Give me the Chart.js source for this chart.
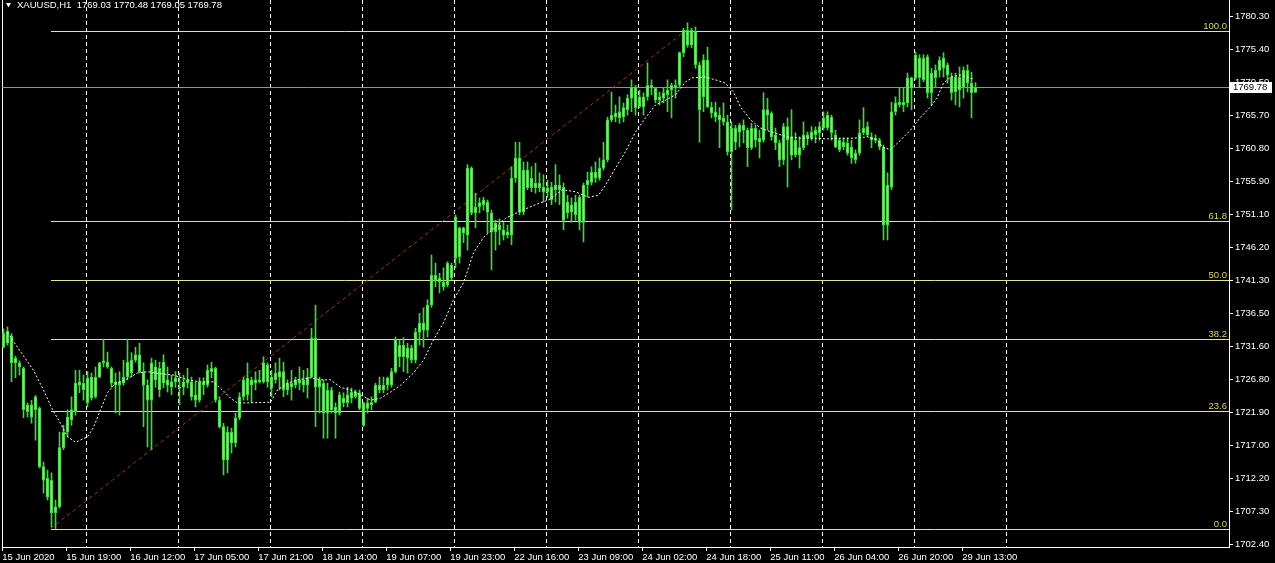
<!DOCTYPE html>
<html>
<head>
<meta charset="utf-8">
<script src="https://cdn.jsdelivr.net/npm/chart.js@4.4.1/dist/chart.umd.min.js"></script>
<style>
  html, body { margin: 0; padding: 0; background: #000; }
  #wrap { position: relative; width: 1275px; height: 563px; }
</style>
</head>
<body>
<div id="wrap"><canvas id="myChart"></canvas></div>
<script>
// XAUUSD H1, one candle per hour from 15 Jun 2020
var openPrices = [
    1731.5,1733.9,1733.2,1729.9,1729.2,1728.4,1722.0,1723.0,1722.3,1722.5,
    1713.9,1712.2,1711.9,1707.1,1708.0,1716.7,1719.0,1720.8,1722.0,1726.4,
    1725.2,1727.0,1724.0,1724.2,1727.1,1729.2,1729.3,1728.4,1726.4,1725.9,
    1726.2,1727.1,1727.7,1729.6,1730.4,1727.9,1725.9,1723.7,1728.6,1725.2,
    1729.3,1725.9,1726.4,1726.4,1725.6,1725.6,1726.2,1726.4,1724.5,1723.7,
    1726.4,1725.9,1727.9,1728.4,1723.7,1719.8,1714.9,1719.0,1717.4,1721.1,
    1724.2,1724.5,1726.7,1726.2,1726.7,1726.4,1728.9,1727.1,1726.7,1727.1,
    1727.9,1725.2,1726.2,1725.9,1726.7,1725.9,1725.9,1727.1,1732.9,1725.6,
    1726.2,1721.8,1725.2,1722.7,1721.8,1724.0,1723.3,1724.0,1724.9,1724.8,
    1723.3,1722.5,1723.4,1723.4,1725.9,1725.2,1725.9,1725.9,1727.9,1731.8,
    1730.1,1731.4,1729.6,1729.6,1733.7,1735.1,1734.0,1737.7,1742.1,1741.7,
    1741.1,1740.7,1743.6,1744.6,1749.1,1748.3,1748.0,1757.9,1751.3,1752.2,
    1752.5,1752.9,1751.3,1748.5,1749.5,1748.8,1748.0,1748.0,1756.4,1759.4,
    1751.4,1757.6,1755.0,1755.7,1755.0,1755.1,1754.4,1755.1,1754.7,1755.4,
    1755.1,1751.3,1752.5,1751.0,1753.6,1749.9,1755.4,1755.8,1756.4,1756.4,
    1757.9,1759.1,1765.0,1765.4,1766.2,1765.4,1766.5,1768.2,1769.8,1766.9,
    1768.4,1768.4,1770.1,1769.7,1767.9,1768.2,1768.7,1769.4,1769.7,1770.1,
    1774.9,1778.2,1776.0,1778.0,1773.1,1768.4,1773.8,1766.9,1766.2,1765.7,
    1765.3,1764.7,1760.3,1763.8,1763.2,1764.2,1763.5,1760.9,1763.8,1762.3,
    1762.0,1766.5,1766.0,1762.8,1761.6,1759.1,1764.0,1762.5,1759.8,1760.9,
    1760.9,1762.8,1762.3,1763.5,1763.1,1763.8,1765.7,1763.1,1762.8,1760.6,
    1761.7,1761.6,1761.0,1759.1,1760.1,1763.1,1764.0,1762.5,1762.3,1762.0,
    1761.0,1749.5,1755.1,1766.2,1767.6,1767.2,1767.5,1771.2,1771.2,1774.1,
    1770.9,1774.3,1769.0,1771.2,1772.3,1774.1,1773.1,1771.3,1769.1,1771.3,
    1769.8,1772.3,1770.4,1769.03
];
var highPrices = [
    1734.2,1734.5,1733.5,1730.2,1729.5,1728.6,1723.3,1723.7,1724.4,1722.7,
    1714.6,1713.4,1713.0,1709.0,1719.0,1720.0,1722.3,1724.2,1728.1,1728.1,
    1727.4,1727.9,1727.7,1728.6,1729.3,1732.7,1730.8,1728.6,1727.7,1727.9,
    1729.6,1732.7,1730.7,1731.5,1732.1,1729.2,1726.7,1729.9,1729.6,1729.3,
    1730.4,1728.6,1727.4,1727.9,1727.7,1727.4,1728.4,1727.1,1726.4,1727.0,
    1727.0,1728.9,1729.3,1728.6,1724.2,1720.3,1719.8,1719.6,1721.8,1724.8,
    1727.1,1729.2,1727.1,1727.9,1728.1,1730.1,1729.2,1728.1,1729.2,1729.9,
    1729.3,1726.7,1728.1,1727.1,1728.6,1728.1,1728.4,1734.3,1737.7,1727.1,
    1726.7,1726.2,1725.6,1723.3,1724.9,1724.8,1725.6,1725.5,1725.2,1725.2,
    1723.4,1724.0,1724.2,1726.2,1727.1,1727.1,1727.1,1728.4,1733.0,1732.6,
    1732.9,1732.1,1731.8,1734.3,1736.5,1737.3,1738.5,1745.1,1743.9,1742.4,
    1743.2,1744.1,1743.9,1751.0,1749.2,1749.2,1758.4,1758.1,1754.2,1753.5,
    1753.6,1753.2,1751.7,1750.2,1750.4,1749.9,1749.5,1758.1,1761.7,1761.7,
    1758.8,1758.8,1758.1,1758.6,1757.2,1756.9,1756.1,1755.8,1758.4,1756.9,
    1755.7,1753.9,1753.5,1753.9,1753.9,1755.7,1757.3,1758.1,1758.8,1759.4,
    1761.7,1765.4,1769.1,1767.2,1768.4,1767.5,1768.7,1770.9,1770.1,1769.4,
    1769.0,1773.4,1770.9,1769.8,1769.1,1769.7,1770.9,1770.4,1770.9,1775.0,
    1778.5,1779.3,1778.5,1778.7,1773.5,1774.6,1775.7,1767.6,1767.6,1766.8,
    1767.5,1765.7,1764.7,1764.2,1764.5,1765.0,1763.8,1764.5,1764.2,1763.5,
    1769.0,1768.2,1766.2,1763.8,1762.0,1764.5,1765.3,1766.5,1763.1,1762.5,
    1764.7,1763.2,1764.0,1764.0,1764.7,1766.2,1766.2,1765.7,1763.5,1762.3,
    1762.3,1762.3,1762.0,1760.6,1765.0,1766.8,1764.7,1763.1,1762.8,1762.3,
    1761.3,1757.2,1767.6,1768.4,1769.7,1769.8,1771.9,1771.3,1775.0,1774.6,
    1774.6,1774.6,1772.6,1773.1,1774.3,1774.9,1773.4,1771.9,1771.9,1772.8,
    1772.8,1773.1,1772.0,1770.48
];
var lowPrices = [
    1731.4,1731.8,1726.4,1727.0,1727.4,1721.1,1721.2,1720.3,1717.8,1713.7,
    1710.0,1709.0,1705.0,1704.8,1707.8,1716.4,1718.3,1720.0,1721.5,1724.8,
    1723.7,1722.7,1723.7,1724.0,1727.0,1728.6,1728.4,1725.6,1721.8,1721.5,
    1725.9,1726.7,1727.1,1729.3,1727.7,1719.8,1716.8,1716.4,1725.6,1724.2,
    1725.5,1724.9,1724.5,1725.6,1723.0,1724.5,1725.5,1723.7,1722.7,1723.4,
    1724.5,1725.6,1727.0,1723.4,1719.6,1712.7,1713.0,1715.9,1716.8,1720.8,
    1723.7,1723.7,1723.4,1725.2,1726.2,1726.2,1725.6,1724.2,1726.2,1725.2,
    1724.2,1724.5,1723.7,1725.5,1725.2,1724.9,1724.0,1727.0,1719.8,1721.8,
    1718.1,1718.1,1721.8,1718.1,1721.5,1722.7,1722.7,1723.3,1724.0,1722.3,
    1719.8,1721.8,1722.3,1723.3,1724.8,1724.8,1725.2,1725.6,1727.7,1728.6,
    1727.9,1727.7,1729.2,1729.2,1731.8,1731.5,1733.0,1737.4,1740.4,1739.5,
    1739.9,1740.4,1741.4,1743.2,1743.9,1746.9,1745.8,1751.0,1749.1,1751.3,
    1751.7,1748.3,1742.9,1745.8,1746.6,1747.3,1747.6,1746.6,1755.8,1751.0,
    1751.0,1754.7,1754.4,1754.2,1754.4,1752.9,1753.6,1752.5,1752.9,1752.5,
    1748.8,1750.5,1749.9,1750.2,1748.8,1747.0,1753.6,1755.4,1755.8,1756.1,
    1757.6,1758.8,1764.7,1764.7,1764.5,1764.7,1765.7,1766.2,1765.7,1766.8,
    1765.7,1767.9,1768.7,1767.5,1767.2,1767.5,1766.2,1765.3,1768.2,1769.7,
    1774.3,1775.7,1775.6,1772.6,1761.7,1766.2,1766.8,1765.3,1764.7,1760.9,
    1764.2,1759.8,1751.7,1760.6,1761.0,1761.6,1758.1,1760.6,1761.0,1759.4,
    1761.7,1763.5,1762.0,1760.6,1758.1,1758.4,1755.1,1759.1,1759.5,1757.9,
    1760.6,1761.3,1762.0,1761.6,1762.0,1763.5,1763.5,1762.0,1760.9,1760.3,
    1760.6,1759.8,1758.6,1758.6,1759.8,1762.8,1762.5,1760.9,1761.6,1760.6,
    1747.3,1747.3,1754.7,1765.7,1766.9,1766.2,1766.9,1766.5,1770.9,1769.8,
    1770.6,1768.2,1767.2,1769.8,1771.3,1771.3,1770.4,1767.9,1767.2,1766.9,
    1768.2,1769.1,1765.3,1769.03
];
var closePrices = [
    1733.6,1732.1,1729.2,1729.2,1728.6,1722.3,1723.0,1721.2,1724.2,1713.9,
    1711.9,1709.4,1707.1,1708.0,1716.7,1719.0,1721.2,1722.3,1726.2,1725.9,
    1726.2,1723.3,1727.1,1727.1,1729.2,1729.5,1728.6,1726.2,1725.9,1726.4,
    1727.1,1729.3,1729.6,1730.4,1727.9,1725.9,1723.7,1729.2,1726.7,1728.4,
    1726.2,1726.7,1725.6,1727.0,1725.5,1726.4,1726.7,1724.2,1723.7,1726.4,
    1725.9,1728.1,1728.4,1723.7,1719.8,1714.9,1719.0,1717.4,1721.1,1724.2,
    1726.7,1727.0,1725.9,1726.7,1726.4,1729.2,1726.4,1725.5,1727.7,1727.9,
    1725.2,1726.2,1725.6,1726.7,1726.2,1726.7,1727.1,1732.9,1725.6,1726.7,
    1721.8,1725.2,1722.3,1721.8,1724.5,1723.3,1724.5,1724.9,1724.2,1722.5,
    1720.0,1723.3,1723.0,1725.9,1725.2,1725.9,1727.0,1727.9,1732.6,1730.1,
    1731.8,1729.9,1731.4,1733.7,1735.1,1734.0,1737.7,1742.1,1741.4,1741.1,
    1740.4,1743.9,1741.7,1750.7,1744.8,1749.1,1757.9,1751.3,1752.2,1752.8,
    1753.2,1751.4,1748.5,1749.8,1748.8,1748.0,1748.5,1756.4,1759.4,1751.4,
    1757.6,1755.0,1756.4,1755.0,1755.7,1754.4,1755.0,1753.2,1755.4,1754.7,
    1750.2,1752.9,1751.4,1752.9,1749.9,1755.4,1756.1,1757.3,1757.3,1757.9,
    1759.1,1765.0,1765.7,1766.0,1765.3,1766.8,1768.2,1769.8,1766.8,1768.4,
    1766.9,1770.1,1769.7,1767.9,1768.4,1769.0,1769.4,1770.1,1770.1,1774.9,
    1778.2,1776.0,1778.2,1773.1,1766.5,1773.8,1766.9,1766.0,1765.4,1765.0,
    1764.7,1760.3,1763.8,1761.7,1764.2,1763.5,1760.9,1763.8,1762.0,1761.7,
    1766.5,1765.7,1762.5,1761.6,1759.1,1764.0,1762.0,1759.8,1762.0,1759.8,
    1762.8,1762.3,1763.2,1762.8,1764.0,1765.3,1763.8,1765.4,1761.0,1762.0,
    1761.0,1760.1,1759.4,1760.1,1763.1,1763.8,1762.8,1762.0,1762.0,1761.0,
    1749.5,1755.4,1766.2,1767.5,1767.2,1767.6,1771.2,1769.7,1774.6,1771.2,
    1774.1,1769.0,1771.9,1772.3,1773.8,1772.6,1771.6,1769.0,1771.3,1769.4,
    1772.3,1770.4,1769.0,1769.78
];

// moving average (white dotted), read at a number of bars
var maBars = [1,3.5,7.5,10,12.25,14.25,16,18,21,22.5,24.25,26,28,30.5,33.5,36,39.25,42.5,46,49.25,
    52.5,54.75,56.75,58.5,60.5,66.75,68.5,71,73.5,76.75,79.25,81.75,84.25,86.75,89.25,91.75,94.25,96.75,99.25,102.5,
    105,107.5,110,112.5,115,117.5,120,125.5,129.75,133,136.25,139.75,143,146.25,148.75,150.5,153,155.5,158,160.5,
    163,165.5,168,170.5,172.25,175.5,178,180.5,182.5,184.25,186.75,189.25,192.5,196,199.25,202.5,206,209.25,212.5,216,
    218.5,219.75,221.75,224.25,226.75,229.25,231.75,233.5,235,236.75,239.25,242.5];
var maValues = [1733.7,1731.5,1728.1,1725.2,1722.3,1720.3,1718.3,1717.5,1718.3,1719.7,1722.3,1724.8,1726.2,1726.7,1727.7,1727.9,1727.6,1727.4,1726.7,1726.4,
    1726.4,1725.2,1724.0,1723.3,1723.3,1723.4,1725.2,1726.2,1726.7,1727.0,1726.7,1726.7,1725.6,1725.2,1724.5,1723.7,1724.0,1724.9,1725.9,1727.7,
    1729.6,1732.6,1735.1,1738.5,1741.0,1745.4,1747.7,1750.5,1751.7,1752.5,1753.2,1754.7,1754.4,1753.6,1753.9,1755.4,1757.9,1760.3,1763.2,1765.3,
    1767.2,1767.9,1768.7,1770.6,1771.2,1771.3,1770.9,1770.4,1769.1,1766.9,1765.0,1763.8,1763.1,1762.5,1762.3,1762.3,1762.2,1762.3,1762.3,1762.5,
    1762.0,1761.0,1760.6,1762.0,1763.5,1765.4,1766.9,1768.4,1770.4,1771.3,1771.6,1771.0];

// time axis labels, one every 16 bars
var xTickBars = [0,16,32,48,64,80,96,112,128,144,160,176,192,208,224,240];
var xTickLabels = ["15 Jun 2020","15 Jun 19:00","16 Jun 12:00","17 Jun 05:00","17 Jun 21:00","18 Jun 14:00",
    "19 Jun 07:00","19 Jun 23:00","22 Jun 16:00","23 Jun 09:00","24 Jun 02:00","24 Jun 18:00",
    "25 Jun 11:00","26 Jun 04:00","26 Jun 20:00","29 Jun 13:00"];
// day separators (dashed grid)
var gridBars = [21,44,67,90,113,136,159,182,205,228,251];

var yTickValues = [1780.30,1775.40,1770.50,1765.70,1760.80,1755.90,1751.10,1746.20,1741.30,
    1736.50,1731.60,1726.80,1721.90,1717.00,1712.20,1707.30,1702.40];
var yTickLabels = ["1780.30","1775.40","1770.50","1765.70","1760.80","1755.90","1751.10","1746.20","1741.30",
    "1736.50","1731.60","1726.80","1721.90","1717.00","1712.20","1707.30","1702.40"];

// fibonacci retracement
var fibLow = 1704.76;
var fibHigh = 1778.13;
var fibStartBar = 11.75;
var fibEndBar = 170.5;
var fibLevels = [0, 23.6, 38.2, 50, 61.8, 100];
var fibLabels = ["0.0", "23.6", "38.2", "50.0", "61.8", "100.0"];

var lastPrice = 1769.78;
var headerText = "XAUUSD,H1  1769.03 1770.48 1769.05 1769.78";

var X_MIN = -0.375, X_MAX = 306.375;
var FONT = '9.5px "Liberation Sans", Arial, sans-serif';

function fib_price(level) {
    return fibLow + (fibHigh - fibLow) * level / 100;
}

function no_padding(scale) {
    scale.paddingLeft = 0;
    scale.paddingRight = 0;
    scale.paddingTop = 0;
    scale.paddingBottom = 0;
}

var wicks = [], bodies = [];
for(var i = 0; i < openPrices.length; i++) {
    wicks.push({x: i, y: [lowPrices[i], highPrices[i]]});
    bodies.push({x: i, y: [openPrices[i], closePrices[i]]});
}

var datasets = [];
// candle bodies on top
datasets.push({
    type: 'bar', data: bodies, order: 1, grouped: false,
    barThickness: 3, minBarLength: 1,
    backgroundColor: '#86e37c', borderColor: '#3fcc3f', borderWidth: 1, borderSkipped: false
});
datasets.push({
    type: 'bar', data: wicks, order: 2, grouped: false,
    barThickness: 1, backgroundColor: '#45d145', borderWidth: 0
});
datasets.push({
    type: 'line', order: 0,
    data: maBars.map(function(b, k) { return {x: b, y: maValues[k]}; }),
    borderColor: '#ffffff', borderWidth: 1, borderDash: [2, 2], pointRadius: 0, tension: 0
});
// fib trend line
datasets.push({
    type: 'line', order: 4,
    data: [{x: fibStartBar, y: fibLow}, {x: fibEndBar, y: fibHigh}],
    borderColor: '#a33030', borderWidth: 1, borderDash: [4, 3], pointRadius: 0
});

// crisp horizontal levels (fib + current price), placed with the y scale
var levels = {
    id: 'levels',
    beforeDatasetsDraw: function(chart) {
        var ctx = chart.ctx, xs = chart.scales.x, ys = chart.scales.y, area = chart.chartArea;
        ctx.save();
        ctx.lineWidth = 1;
        ctx.strokeStyle = '#8e92a6';
        var py = Math.round(ys.getPixelForValue(lastPrice)) + 0.5;
        ctx.beginPath(); ctx.moveTo(area.left, py); ctx.lineTo(area.right, py); ctx.stroke();
        ctx.strokeStyle = '#e8e48c';
        var x0 = Math.round(xs.getPixelForValue(fibStartBar));
        fibLevels.forEach(function(lv) {
            var fy = Math.round(ys.getPixelForValue(fib_price(lv))) + 0.5;
            ctx.beginPath(); ctx.moveTo(x0, fy); ctx.lineTo(area.right, fy); ctx.stroke();
        });
        ctx.restore();
    }
};

var overlay = {
    id: 'overlay',
    afterDraw: function(chart) {
        var ctx = chart.ctx, ys = chart.scales.y, area = chart.chartArea;
        ctx.save();
        ctx.font = FONT;
        // fib level captions
        ctx.fillStyle = '#ddd46a';
        ctx.textAlign = 'right';
        ctx.textBaseline = 'alphabetic';
        fibLevels.forEach(function(lv, k) {
            var py = Math.round(ys.getPixelForValue(fib_price(lv)));
            ctx.fillText(fibLabels[k], area.right - 2, py - 2);
        });
        // price tag on the axis
        var py = Math.round(ys.getPixelForValue(lastPrice));
        ctx.fillStyle = '#ffffff';
        ctx.fillRect(area.right + 1, py - 5, 42, 11);
        ctx.fillStyle = '#000000';
        ctx.textAlign = 'left';
        ctx.textBaseline = 'middle';
        ctx.fillText(lastPrice.toFixed(2), area.right + 4, py + 0.5);
        // symbol header
        ctx.fillStyle = '#ffffff';
        ctx.beginPath();
        ctx.moveTo(6, 3); ctx.lineTo(11, 3); ctx.lineTo(8.5, 7.5); ctx.closePath();
        ctx.fill();
        ctx.fillText(headerText, 17, 5.5);
        ctx.restore();
    }
};

var ctx = document.getElementById('myChart').getContext('2d');
globalThis.chart = new Chart(ctx, {
    type: 'bar',
    data: { datasets: datasets },
    plugins: [levels, overlay],
    options: {
        responsive: true,
        maintainAspectRatio: false,
        animation: false,
        layout: { padding: 0 },
        plugins: { legend: { display: false }, tooltip: { enabled: false } },
        scales: {
            x: {
                type: 'linear', position: 'bottom', min: X_MIN, max: X_MAX, offset: false,
                afterBuildTicks: function(scale) {
                    scale.ticks = xTickBars.map(function(b) { return {value: b - 0.3}; });
                },
                afterFit: function(scale) { scale.height = 16; no_padding(scale); },
                ticks: {
                    autoSkip: false, maxRotation: 0, align: 'start', padding: 1,
                    color: '#ffffff', font: { family: 'Liberation Sans', size: 9.5 },
                    callback: function(v, idx) { return xTickLabels[idx]; }
                },
                grid: { offset: false, drawOnChartArea: false, drawTicks: true, tickLength: 4, color: '#ffffff' },
                border: { display: true, color: '#ffffff' }
            },
            xg: {
                type: 'linear', axis: 'x', position: 'bottom', min: X_MIN, max: X_MAX, offset: false,
                afterBuildTicks: function(scale) {
                    scale.ticks = gridBars.map(function(b) { return {value: b - 0.2}; });
                },
                afterFit: function(scale) { scale.height = 0; no_padding(scale); },
                ticks: { display: false },
                grid: { offset: false, drawOnChartArea: true, drawTicks: false, color: '#ffffff', lineWidth: 1 },
                border: { display: false, dash: [4, 3] }
            },
            y: {
                type: 'linear', position: 'right', min: 1702.07, max: 1782.66,
                afterBuildTicks: function(scale) {
                    scale.ticks = yTickValues.map(function(v) { return {value: v}; });
                },
                afterFit: function(scale) { scale.width = 46; no_padding(scale); },
                ticks: {
                    padding: 2, color: '#ffffff', font: { family: 'Liberation Sans', size: 9.5 },
                    callback: function(v, idx) { return yTickLabels[idx]; }
                },
                grid: { drawOnChartArea: false, drawTicks: true, tickLength: 4, color: '#ffffff' },
                border: { display: true, color: '#ffffff' }
            },
            yl: {
                type: 'linear', axis: 'y', position: 'left', min: 1702.07, max: 1782.66,
                afterFit: function(scale) { scale.width = 2; no_padding(scale); },
                ticks: { display: false },
                grid: { drawOnChartArea: false, drawTicks: false },
                border: { display: true, color: '#ffffff' }
            }
        }
    }
});
</script>
</body>
</html>
